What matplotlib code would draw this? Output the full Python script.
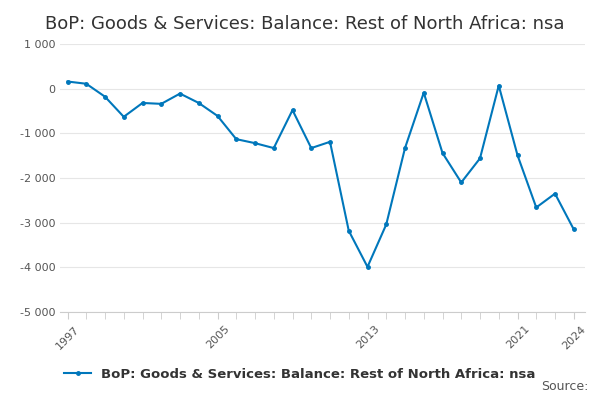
import numpy as np
import matplotlib.pyplot as plt

years = list(range(1997, 2025))
balance = [160, 110, -180, -630, -320, -340, -110, -320, -610, -1130, -1220, -1330,
           -480, -1330, -1190, -3180, -3990, -3040, -1330, -90, -1440, -2100, -1560,
           70, -1490, -2660, -2350, -3150]
label = "BoP: Goods & Services: Balance: Rest of North Africa: nsa"

fig = plt.figure(figsize=(6, 4), dpi=100)
ax = fig.add_axes([0.1, 0.22, 0.875, 0.67])
ax.plot(years, balance, color='#0077bb', linewidth=1.5, marker='o', markersize=2.5, label=label)

ax.set_ylim(-5000, 1000)
ax.set_yticks(range(-5000, 1001, 1000))
ax.set_yticklabels([f"{v:,}".replace(",", " ").replace("-", "-") for v in range(-5000, 1001, 1000)])
ax.set_xlim(1996.6, 2024.6)
ax.set_xticks(years, minor=True)
ax.set_xticks([1997, 2005, 2013, 2021, 2024])
ax.tick_params(axis='x', which='both', length=5, color='#cccccc', labelsize=8, labelcolor='#555555', labelrotation=45)
ax.tick_params(axis='y', length=0, labelsize=8, labelcolor='#555555')
ax.grid(axis='y', color='#e6e6e6', linewidth=0.8)
for s in ['top', 'right', 'left']:
    ax.spines[s].set_visible(False)
ax.spines['bottom'].set_color('#cccccc')

fig.text(0.075, 0.94, "BoP: Goods & Services: Balance: Rest of North Africa: nsa",
         fontsize=13, color='#333333', va='center')
fig.legend(loc='center', bbox_to_anchor=(0.5, 0.065), frameon=False,
           prop={'size': 9.5, 'weight': 'bold'}, labelcolor='#333333')
fig.text(0.98, 0.025, "Source:", ha='right', fontsize=9, color='#555555')
fig.savefig('out.png')
